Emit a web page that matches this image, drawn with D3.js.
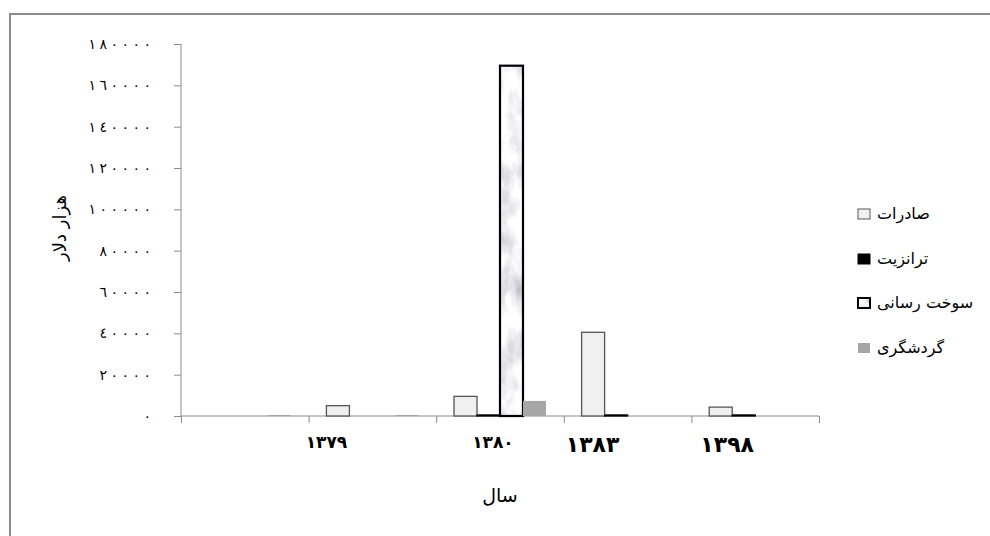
<!DOCTYPE html>
<html>
<head>
<meta charset="utf-8">
<script src="https://cdn.jsdelivr.net/npm/d3@7/dist/d3.min.js"></script>
<style>
  body { margin: 0; background: #fff; }
  svg { display: block; }
  .ytick text { font-family: "DejaVu Sans", sans-serif; font-size: 14px; direction: ltr; unicode-bidi: bidi-override; }
  .ylab, .xlab, .leg { font-family: "DejaVu Sans", sans-serif; }
</style>
</head>
<body>
<svg id="chart" width="990" height="536"></svg>
<script>
// groups on the x axis (first one has no label)
var groups = ["g0", "g1379", "g1380", "g1383", "g1398"];
var groupLabels = ["", "۱۳۷۹", "۱۳۸۰", "۱۳۸۳", "۱۳۹۸"];
var series = ["صادرات", "ترانزیت", "سوخت رسانی", "گردشگری"];

// hezar dollar values per group
var exportsVals = [null, 5000, 9500, 40500, 4300];
var transitVals = [null, null, 500, 500, 500];
var fuelVals    = [null, null, 169500, null, null];
var tourismVals = [500, 500, 7300, null, null];

var yTicks = [0, 20000, 40000, 60000, 80000, 100000, 120000, 140000, 160000, 180000];

// layout bits, not data
var labelShift = [0, -46, -7, -35, -28];
var labelSize = [0, 17, 17, 22, 22];
var labelSpacing = [0, 1, 1, 1.5, 1.5];

var svg = d3.select("#chart");

var defs = svg.append("defs");
var flt = defs.append("filter").attr("id", "marbleF")
  .attr("x", 0).attr("y", 0).attr("width", "100%").attr("height", "100%");
flt.append("feTurbulence").attr("type", "fractalNoise")
  .attr("baseFrequency", "0.06 0.03").attr("numOctaves", 4).attr("seed", 3).attr("result", "n");
flt.append("feColorMatrix").attr("in", "n").attr("type", "matrix")
  .attr("values", "0.9 0 0 0 0.45  0.9 0 0 0 0.45  0.9 0 0 0 0.48  0 0 0 0 1");
var pat = defs.append("pattern").attr("id", "marble")
  .attr("patternUnits", "userSpaceOnUse").attr("width", 60).attr("height", 400);
pat.append("rect").attr("width", 60).attr("height", 400).attr("fill", "#ddd").attr("filter", "url(#marbleF)");

var fills = ["#f0f0f0", "#000", "url(#marble)", "#a6a6a6"];
var strokes = ["#555", "#000", "#000", "none"];
var strokeW = [1.3, 1.3, 2.2, 0];

// frame
svg.append("path").attr("d", "M10,536V14H990")
  .attr("fill", "none").attr("stroke", "#8c8c8c").attr("stroke-width", 2);

var x0 = 181, x1 = 819, yTop = 44, yBot = 416;

var y = d3.scaleLinear().domain([0, 180000]).range([yBot, yTop]);
var x = d3.scaleBand().domain(groups).range([x0, x1]);
var xIdx = d3.scaleLinear().domain([0, groups.length]).range([x0, x1]);
var xSub = d3.scaleBand().domain(series).range([0, x.bandwidth()])
  .paddingInner(0).paddingOuter(0.775);

var arabicDigits = "٠١٢٣٤٥٦٧٨٩";
function toArabic(v) {
  // spaced out digits, like the original
  return String(v).split("").map(function (c) { return arabicDigits[+c]; }).join("\u2005");
}

var yAxis = svg.append("g").attr("class", "ytick")
  .attr("transform", "translate(" + x0 + ",0)")
  .call(d3.axisLeft(y).tickValues(yTicks).tickSize(7).tickPadding(23).tickFormat(toArabic));
yAxis.selectAll("line, path").attr("stroke", "#8c8c8c");
yAxis.select(".domain").attr("d", "M0," + yTop + "V" + yBot);
yAxis.selectAll("text").attr("fill", "#000");

var xAxis = svg.append("g")
  .attr("transform", "translate(0," + yBot + ")")
  .call(d3.axisBottom(xIdx).tickValues(d3.range(groups.length + 1)).tickSize(7).tickFormat(""));
xAxis.selectAll("line, path").attr("stroke", "#8c8c8c");
xAxis.select(".domain").attr("d", "M" + x0 + ",0H" + x1);

// bars
var allVals = [exportsVals, transitVals, fuelVals, tourismVals];
var cells = [];
groups.forEach(function (g, gi) {
  series.forEach(function (s, si) {
    var v = allVals[si][gi];
    if (v != null) cells.push({ g: g, s: s, si: si, v: v });
  });
});

svg.append("g").selectAll("rect").data(cells).enter().append("rect")
  .attr("x", function (d) { return x(d.g) + xSub(d.s); })
  .attr("y", function (d) { return y(d.v); })
  .attr("width", xSub.bandwidth())
  .attr("height", function (d) { return yBot - y(d.v); })
  .attr("fill", function (d) { return fills[d.si]; })
  .attr("stroke", function (d) { return strokes[d.si]; })
  .attr("stroke-width", function (d) { return strokeW[d.si]; });

// category labels
svg.append("g").selectAll("text").data(groups).enter().append("text")
  .attr("class", "xlab")
  .attr("x", function (d, i) { return x(d) + x.bandwidth() / 2 + labelShift[i]; })
  .attr("y", function (d, i) { return i > 2 ? 452 : 448; })
  .attr("text-anchor", "middle")
  .attr("font-weight", "bold")
  .attr("letter-spacing", function (d, i) { return labelSpacing[i] + "px"; })
  .attr("font-size", function (d, i) { return labelSize[i] + "px"; })
  .text(function (d, i) { return groupLabels[i]; });

// axis titles
svg.append("text").attr("class", "ylab")
  .attr("transform", "translate(66,228) rotate(-90)")
  .attr("text-anchor", "middle").attr("font-size", "18px")
  .text("هزار دلار");
svg.append("text").attr("class", "ylab")
  .attr("x", 500).attr("y", 502)
  .attr("text-anchor", "middle").attr("font-size", "19px")
  .text("سال");

// legend
var legY = [214, 259, 303, 348];
var leg = svg.append("g").selectAll("g").data(series).enter().append("g")
  .attr("transform", function (d, i) { return "translate(858," + legY[i] + ")"; });
leg.append("rect").attr("x", 0).attr("y", -5).attr("width", 12).attr("height", 10)
  .attr("fill", function (d, i) { return fills[i]; })
  .attr("stroke", function (d, i) { return strokes[i]; })
  .attr("stroke-width", function (d, i) { return i === 2 ? 2 : 1; });
leg.append("text").attr("class", "leg")
  .attr("x", 19).attr("y", 5)
  .attr("font-size", "16px")
  .text(function (d) { return d; });
</script>
</body>
</html>
